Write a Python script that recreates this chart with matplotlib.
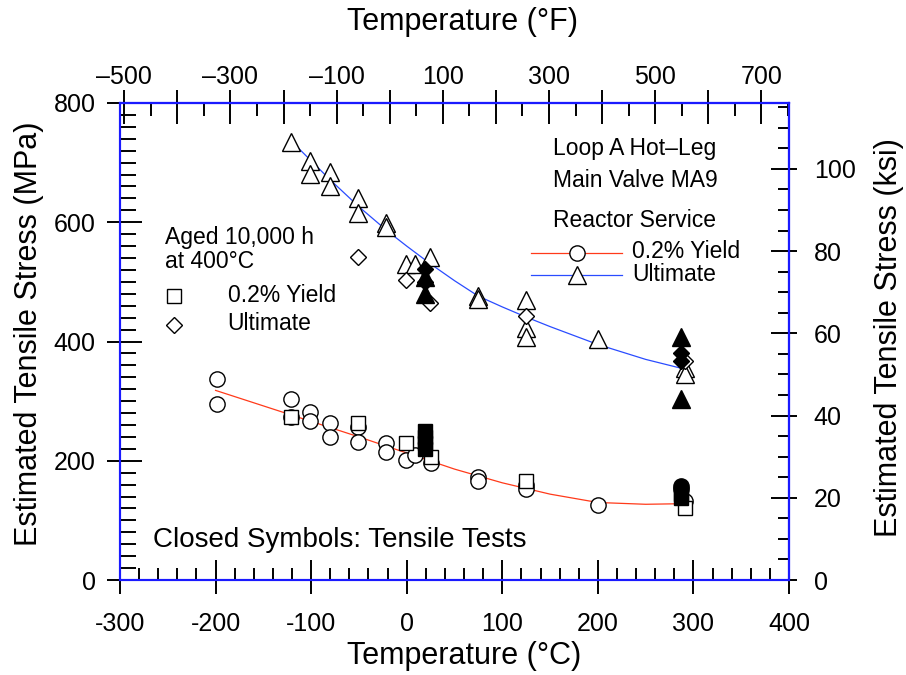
import matplotlib
matplotlib.use("Agg")
import matplotlib.pyplot as plt
from matplotlib.ticker import MultipleLocator, FixedLocator, FuncFormatter, NullLocator

plt.rcParams["font.family"] = ["Liberation Sans", "DejaVu Sans"]
plt.rcParams["axes.unicode_minus"] = False

# reactor service, 0.2% yield (open circles)
rs_yield_t = [-198, -198, -121, -121, -101, -101, -80, -80, -51, -51, -22, -22,
              -1, 9, 25, 75, 75, 125, 125, 200, 291]
rs_yield_s = [337, 295, 303, 274, 282, 266, 263, 239, 257, 232, 229, 214,
              202, 210, 197, 172, 166, 159, 152, 126, 133]

# reactor service, ultimate (open triangles)
rs_ult_t = [-121, -101, -101, -80, -80, -51, -51, -22, -22, -1, 9, 24,
            75, 75, 125, 125, 125, 200, 291, 291]
rs_ult_s = [735, 702, 681, 685, 661, 640, 616, 598, 592, 530, 530, 542,
            477, 472, 470, 422, 408, 405, 355, 346]

# aged 10,000 h at 400 C
aged_yield_t = [-121, -51, -1, 25, 125, 291]
aged_yield_s = [274, 263, 229, 207, 166, 121]
aged_ult_t = [-51, -1, 24, 125, 291]
aged_ult_s = [542, 503, 464, 443, 367]

# tensile tests (closed symbols)
tt_sq_t = [19, 19, 19, 19, 287, 287]
tt_sq_s = [250, 240, 230, 220, 145, 138]
tt_circ_t = [287, 287]
tt_circ_s = [158, 152]
tt_tri_t = [19, 19, 287, 287]
tt_tri_s = [509, 480, 408, 304]
tt_dia_t = [19, 19, 287, 287]
tt_dia_s = [522, 500, 381, 367]

# fitted curves
fit_yield_t = [-200, -150, -100, -50, 0, 50, 100, 150, 200, 250, 290]
fit_yield_s = [318, 292, 266, 240, 213, 186, 163, 144, 130, 127, 128]
fit_ult_t = [-120, -100, -80, -50, -20, 0, 25, 50, 75, 100, 125, 150, 200, 250, 290]
fit_ult_s = [735, 703, 671, 626, 585, 560, 530, 502, 476, 458, 441, 425, 395, 370, 354]

# tick values
c_ticks = [-300, -200, -100, 0, 100, 200, 300, 400]
mpa_ticks = [0, 200, 400, 600, 800]
f_ticks = [-500, -400, -300, -200, -100, 0, 100, 200, 300, 400, 500, 600, 700]
f_labels = ["\u2013500", "", "\u2013300", "", "\u2013100", "", "100", "", "300", "", "500", "", "700"]
ksi_ticks = [0, 20, 40, 60, 80, 100]

SPINE = "#1a1aff"
RED = "#ff3a1a"
BLUE = "#2a4cff"
TICK_W = 1.4
LABEL_FS = 18
TEXT_FS = 16.5


def c_to_f(c):
    return c * 9 / 5 + 32


def f_to_c(f):
    return (f - 32) * 5 / 9


def mpa_to_ksi(m):
    return m / 6.895


def ksi_to_mpa(k):
    return k * 6.895


def same(v):
    return v


fig = plt.figure(figsize=(9.06, 6.75), dpi=100)
ax = fig.add_axes([120 / 906, 95 / 675, 669 / 906, 477 / 675])

ax.plot(fit_yield_t, fit_yield_s, color=RED, lw=0.9, zorder=2)
ax.plot(fit_ult_t, fit_ult_s, color=BLUE, lw=0.9, zorder=2)

open_kw = dict(ls="none", mfc="white", mec="black", mew=1.0, zorder=3)
ax.plot(rs_yield_t, rs_yield_s, marker="o", ms=11, **open_kw)
ax.plot(rs_ult_t, rs_ult_s, marker="^", ms=12.5, **open_kw)
ax.plot(aged_yield_t, aged_yield_s, marker="s", ms=10, **open_kw)
ax.plot(aged_ult_t, aged_ult_s, marker="D", ms=8, **open_kw)

closed_kw = dict(ls="none", mfc="black", mec="black", mew=1.0, zorder=4)
ax.plot(tt_sq_t, tt_sq_s, marker="s", ms=10, **closed_kw)
ax.plot(tt_circ_t, tt_circ_s, marker="o", ms=11, **closed_kw)
ax.plot(tt_tri_t, tt_tri_s, marker="^", ms=12.5, **closed_kw)
ax.plot(tt_dia_t, tt_dia_s, marker="D", ms=8, **closed_kw)

ax.set_xlim(-300, 400)
ax.set_ylim(0, 800)
for s in ax.spines.values():
    s.set_color(SPINE)
    s.set_linewidth(1.5)

# inside ticks of the main axes (no labels)
ax.xaxis.set_major_locator(FixedLocator(c_ticks))
ax.xaxis.set_minor_locator(MultipleLocator(20))
ax.yaxis.set_major_locator(FixedLocator(mpa_ticks))
ax.yaxis.set_minor_locator(MultipleLocator(20))
ax.tick_params(axis="x", which="major", direction="in", length=14.5, width=TICK_W,
               labelbottom=False, top=False)
ax.tick_params(axis="x", which="minor", direction="in", length=8.6, width=TICK_W, top=False)
ax.tick_params(axis="y", which="major", direction="in", length=16, width=TICK_W,
               labelleft=False, right=False)
ax.tick_params(axis="y", which="minor", direction="in", length=11.5, width=TICK_W, right=False)

# outside ticks + labels, bottom (deg C)
bot = ax.secondary_xaxis("bottom", functions=(same, same))
bot.spines["bottom"].set_color(SPINE)
bot.spines["bottom"].set_linewidth(1.5)
bot.xaxis.set_major_locator(FixedLocator(c_ticks))
bot.xaxis.set_minor_locator(NullLocator())
bot.tick_params(direction="out", length=10, width=TICK_W, labelsize=LABEL_FS, pad=13)

# outside ticks + labels, left (MPa)
lft = ax.secondary_yaxis("left", functions=(same, same))
lft.spines["left"].set_color(SPINE)
lft.spines["left"].set_linewidth(1.5)
lft.yaxis.set_major_locator(FixedLocator(mpa_ticks))
lft.yaxis.set_minor_locator(NullLocator())
lft.tick_params(direction="out", length=9.4, width=TICK_W, labelsize=LABEL_FS, pad=8)

# top axis in Fahrenheit
top_in = ax.secondary_xaxis("top", functions=(c_to_f, f_to_c))
top_in.spines["top"].set_color(SPINE)
top_in.spines["top"].set_linewidth(1.5)
top_in.xaxis.set_major_locator(FixedLocator(f_ticks))
top_in.xaxis.set_minor_locator(FixedLocator([t + 50 for t in f_ticks]))
top_in.tick_params(which="major", direction="in", length=15, width=TICK_W, labeltop=False)
top_in.tick_params(which="minor", direction="in", length=9.4, width=TICK_W)

top_out = ax.secondary_xaxis("top", functions=(c_to_f, f_to_c))
top_out.spines["top"].set_color(SPINE)
top_out.spines["top"].set_linewidth(1.5)
top_out.set_xticks(f_ticks, f_labels)
top_out.xaxis.set_minor_locator(NullLocator())
top_out.tick_params(direction="out", length=9.4, width=TICK_W, labelsize=LABEL_FS, pad=1)

# right axis in ksi
rgt_in = ax.secondary_yaxis("right", functions=(mpa_to_ksi, ksi_to_mpa))
rgt_in.spines["right"].set_color(SPINE)
rgt_in.spines["right"].set_linewidth(1.5)
rgt_in.yaxis.set_major_locator(FixedLocator(ksi_ticks))
rgt_in.yaxis.set_minor_locator(FixedLocator([k + d for k in ksi_ticks for d in (5, 10, 15)]))
rgt_in.tick_params(which="major", direction="in", length=13, width=TICK_W, labelright=False)
rgt_in.tick_params(which="minor", direction="in", length=8, width=TICK_W)

rgt_out = ax.secondary_yaxis("right", functions=(mpa_to_ksi, ksi_to_mpa))
rgt_out.spines["right"].set_color(SPINE)
rgt_out.spines["right"].set_linewidth(1.5)
rgt_out.yaxis.set_major_locator(FixedLocator(ksi_ticks))
rgt_out.yaxis.set_minor_locator(NullLocator())
rgt_out.tick_params(direction="out", length=5.8, width=TICK_W, labelsize=LABEL_FS, pad=12)

# hide unused offset texts / labels of the helper axes
for a in (ax, bot, lft, top_in, top_out, rgt_in, rgt_out):
    for axis in (a.xaxis, a.yaxis):
        axis.offsetText.set_visible(False)
        axis.label.set_visible(False)

# axis titles
fig.text(0.512, 0.028, "Temperature (°C)", fontsize=22, ha="center", va="center")
fig.text(0.511, 0.968, "Temperature (°F)", fontsize=22, ha="center", va="center")
fig.text(0.032, 0.505, "Estimated Tensile Stress (MPa)", fontsize=22,
         rotation=90, ha="center", va="center")
fig.text(0.981, 0.500, "Estimated Tensile Stress (ksi)", fontsize=22,
         rotation=90, ha="center", va="center")

# annotations
ax.text(0.647, 0.891, "Loop A Hot\u2013Leg", transform=ax.transAxes,
        fontsize=TEXT_FS, va="baseline", ha="left")
ax.text(0.647, 0.824, "Main Valve MA9", transform=ax.transAxes,
        fontsize=TEXT_FS, va="baseline", ha="left")
ax.text(0.647, 0.739, "Reactor Service", transform=ax.transAxes,
        fontsize=TEXT_FS, va="baseline", ha="left")
ax.plot([0.614, 0.750], [0.686, 0.686], transform=ax.transAxes, color=RED, lw=0.9)
ax.plot([0.683], [0.686], transform=ax.transAxes, marker="o", ms=11, **open_kw)
ax.plot([0.614, 0.750], [0.640, 0.640], transform=ax.transAxes, color=BLUE, lw=0.9)
ax.plot([0.683], [0.640], transform=ax.transAxes, marker="^", ms=12.5, **open_kw)
ax.text(0.765, 0.675, "0.2% Yield", transform=ax.transAxes, fontsize=TEXT_FS, va="baseline")
ax.text(0.765, 0.627, "Ultimate", transform=ax.transAxes, fontsize=TEXT_FS, va="baseline")

ax.text(0.067, 0.704, "Aged 10,000 h", transform=ax.transAxes,
        fontsize=TEXT_FS, va="baseline", ha="left")
ax.text(0.067, 0.654, "at 400°C", transform=ax.transAxes,
        fontsize=TEXT_FS, va="baseline", ha="left")
ax.plot([0.080], [0.595], transform=ax.transAxes, marker="s", ms=10, **open_kw)
ax.plot([0.080], [0.535], transform=ax.transAxes, marker="D", ms=8, **open_kw)
ax.text(0.161, 0.583, "0.2% Yield", transform=ax.transAxes, fontsize=TEXT_FS, va="baseline")
ax.text(0.161, 0.524, "Ultimate", transform=ax.transAxes, fontsize=TEXT_FS, va="baseline")

ax.text(0.049, 0.069, "Closed Symbols: Tensile Tests", transform=ax.transAxes,
        fontsize=20, va="baseline", ha="left")

fig.savefig("out.png", dpi=100)
